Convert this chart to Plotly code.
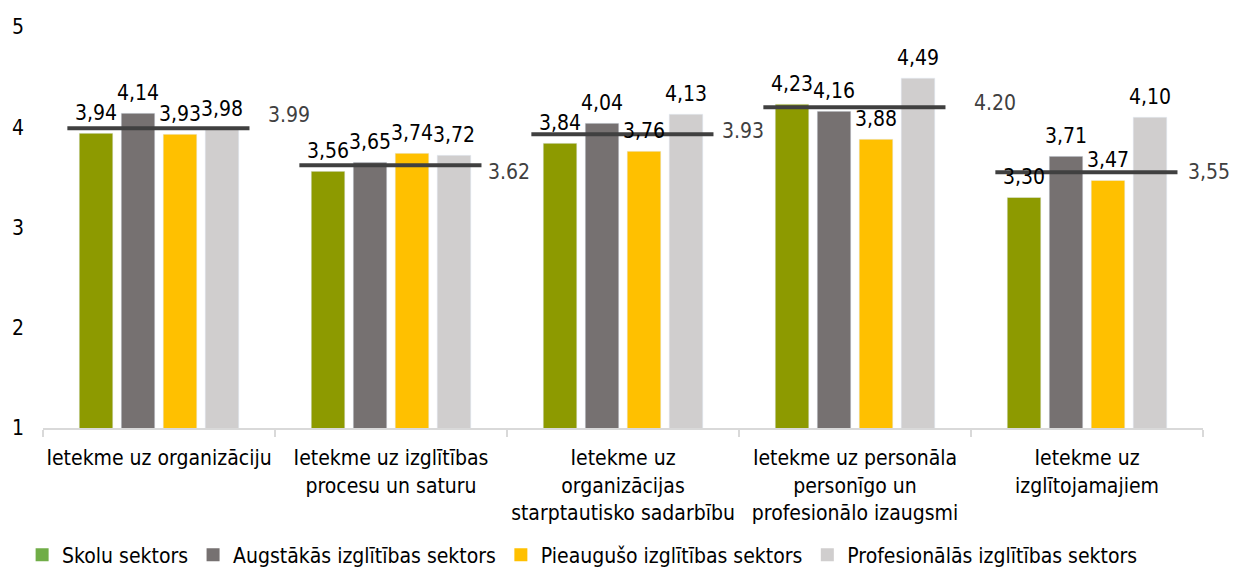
import plotly.graph_objects as go

categories = [
    "Ietekme uz organizāciju",
    "Ietekme uz izglītības<br>procesu un saturu",
    "Ietekme uz<br>organizācijas<br>starptautisko sadarbību",
    "Ietekme uz personāla<br>personīgo un<br>profesionālo izaugsmi",
    "Ietekme uz<br>izglītojamajiem",
]
series_names = [
    "Skolu sektors",
    "Augstākās izglītības sektors",
    "Pieaugušo izglītības sektors",
    "Profesionālās izglītības sektors",
]
skolu = [3.94, 3.56, 3.84, 4.23, 3.30]
augstakas = [4.14, 3.65, 4.04, 4.16, 3.71]
pieauguso = [3.93, 3.74, 3.76, 3.88, 3.47]
profesionalas = [3.98, 3.72, 4.13, 4.49, 4.10]
averages = [3.99, 3.62, 3.93, 4.20, 3.55]
average_sep = [".", ".", ".", ".", ","]

series_values = [skolu, augstakas, pieauguso, profesionalas]
bar_colors = ["#8D9A00", "#767171", "#FFC000", "#D0CECE"]
legend_colors = ["#70AD47", "#767171", "#FFC000", "#D0CECE"]

FONT = "DejaVu Sans Condensed, DejaVu Sans, sans-serif"
BARGAP = 0.276
slot = (1 - BARGAP) / len(series_values)
# pixel offsets of the average labels (style, not data)
avg_xshift = [16, 4, 6, 26, 8]
avg_yshift = [13, -7, 3, 4, 0]

fig = go.Figure()
for name, vals, col in zip(series_names, series_values, bar_colors):
    fig.add_trace(go.Bar(x=categories, y=vals, name=name, marker_color=col,
                         showlegend=False, hoverinfo="skip"))
for name, col in zip(series_names, legend_colors):
    fig.add_trace(go.Scatter(x=[None], y=[None], mode="markers", name=name,
                             marker=dict(symbol="square", size=13, color=col),
                             showlegend=True))

annotations = []
shapes = []
for i, cat in enumerate(categories):
    for k, vals in enumerate(series_values):
        annotations.append(dict(
            x=i + (k - 1.5) * slot, y=vals[i], xref="x", yref="y",
            text=f"{vals[i]:.2f}".replace(".", ","), showarrow=False,
            yanchor="bottom", yshift=6,
            font=dict(family=FONT, size=21, color="#000000")))
    shapes.append(dict(type="line", xref="x", yref="y",
                       x0=i - 0.395, x1=i + 0.39, y0=averages[i], y1=averages[i],
                       line=dict(color="#404040", width=4)))
    annotations.append(dict(
        x=i + 0.49, y=averages[i], xref="x", yref="y",
        text=f"{averages[i]:.2f}".replace(".", average_sep[i]), showarrow=False,
        xanchor="center", yanchor="middle",
        xshift=avg_xshift[i], yshift=avg_yshift[i],
        font=dict(family=FONT, size=21, color="#404040")))

fig.update_layout(
    width=1240, height=568,
    margin=dict(l=35, r=45, t=19, b=148, autoexpand=False),
    paper_bgcolor="white", plot_bgcolor="white",
    barmode="group", bargap=BARGAP, bargroupgap=0.2,
    font=dict(family=FONT, size=21, color="#000000"),
    shapes=shapes, annotations=annotations,
    legend=dict(orientation="h", x=-0.018, xanchor="left", y=-0.317, yanchor="middle",
                font=dict(family=FONT, size=21, color="#000000"),
                traceorder="normal", itemclick=False, itemdoubleclick=False),
    xaxis=dict(range=[-0.5, len(categories) - 0.5], autorange=False,
               showline=True, linecolor="#D9D9D9", linewidth=2,
               ticks="outside", tickson="boundaries", ticklen=7, tickcolor="#D9D9D9",
               tickwidth=2, tickfont=dict(family=FONT, size=21), ticklabelstandoff=10,
               tickangle=0, showgrid=False, fixedrange=True, automargin=False),
    yaxis=dict(range=[1, 5], dtick=1, showline=False, showgrid=False, zeroline=False,
               tickfont=dict(family=FONT, size=21), ticklabelstandoff=18,
               fixedrange=True, automargin=False),
)

fig.write_html("out.html")
